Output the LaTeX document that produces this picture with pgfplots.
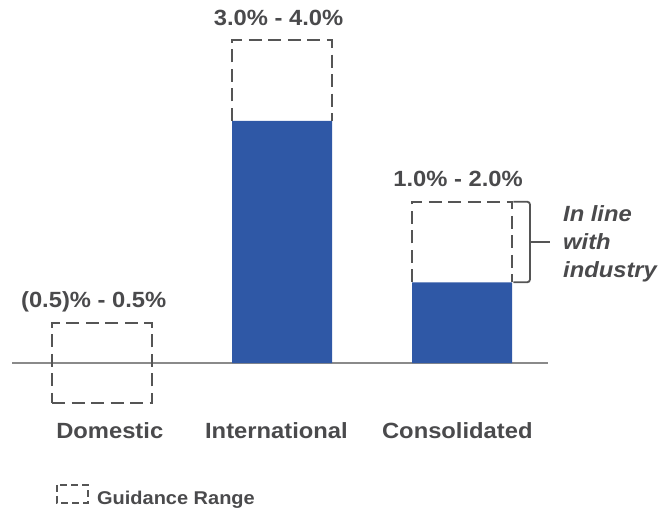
\documentclass[border=0pt]{standalone}
\usepackage{pgfplots}
\pgfplotsset{compat=1.18}
\usepackage{fontspec}
\setmainfont{Liberation Sans}[FakeStretch=1.08]
\definecolor{txt}{HTML}{4A4A4C}
\definecolor{barblue}{HTML}{2F58A6}
\definecolor{dashgray}{HTML}{555555}
\definecolor{basegray}{HTML}{8A8A8A}
\begin{document}
\begin{tikzpicture}
\begin{axis}[
  name=main,
  width=670pt, height=515pt, scale only axis,
  xmin=-0.5667, xmax=3.1556,
  ymin=-1.884, ymax=4.5,
  axis lines=none, clip=false,
  bar width=0.5556,
]
% baseline
\draw[basegray, line width=1.3pt] (axis cs:-0.5,0) -- (axis cs:2.478,0);
% actual bars
\addplot[ybar, fill=barblue, draw=none, bar shift=0pt] coordinates {(1,3.0) (2,1.0)};
% guidance range boxes
\addplot[sharp plot, dashgray, line width=2pt, dash pattern=on 13pt off 6.5pt] coordinates {(-0.2778,-0.5) (0.2778,-0.5) (0.2778,0.5) (-0.2778,0.5) (-0.2778,-0.5)};
\addplot[sharp plot, dashgray, line width=2pt, dash pattern=on 13pt off 6.5pt] coordinates {(0.7222,3.0) (0.7222,4.0) (1.2778,4.0) (1.2778,3.0)};
\addplot[sharp plot, dashgray, line width=2pt, dash pattern=on 13pt off 6.5pt] coordinates {(1.7222,1.0) (1.7222,2.0) (2.2778,2.0) (2.2778,1.0)};
% bracket
\draw[dashgray, line width=1.8pt, rounded corners=3pt] (axis cs:2.285,2.0) -- (axis cs:2.378,2.0) -- (axis cs:2.378,1.0) -- (axis cs:2.285,1.0);
\draw[dashgray, line width=1.8pt] (axis cs:2.378,1.5) -- (axis cs:2.489,1.5);
% labels
\begin{scope}[every node/.style={font=\fontsize{22}{26}\selectfont\bfseries, text=txt, inner sep=0pt}]
\node[anchor=base] at (axis cs:-0.046,0.694) {(0.5)\% - 0.5\%};
\node[anchor=base] at (axis cs:0.981,4.178) {3.0\% - 4.0\%};
\node[anchor=base] at (axis cs:1.978,2.194) {1.0\% - 2.0\%};
\node[anchor=base] at (axis cs:0.043,-0.930) {Domestic};
\node[anchor=base] at (axis cs:0.969,-0.930) {International};
\node[anchor=base] at (axis cs:1.974,-0.930) {Consolidated};
\node[anchor=base west, font=\fontsize{22}{26}\selectfont\bfseries\itshape] at (axis cs:2.561,1.760) {In line};
\node[anchor=base west, font=\fontsize{22}{26}\selectfont\bfseries\itshape] at (axis cs:2.561,1.413) {with};
\node[anchor=base west, font=\fontsize{22}{26}\selectfont\bfseries\itshape] at (axis cs:2.561,1.066) {industry};
\node[anchor=base west, font=\fontsize{18.5}{22}\selectfont\bfseries] at (axis cs:-0.028,-1.760) {Guidance Range};
\end{scope}
% legend icon
\draw[dashgray, line width=1.5pt, dash pattern=on 7pt off 4pt] (axis cs:-0.25,-1.512) rectangle (axis cs:-0.078,-1.735);
\end{axis}
\pgfresetboundingbox
\path (main.south west) rectangle (main.north east);
\end{tikzpicture}
\end{document}
